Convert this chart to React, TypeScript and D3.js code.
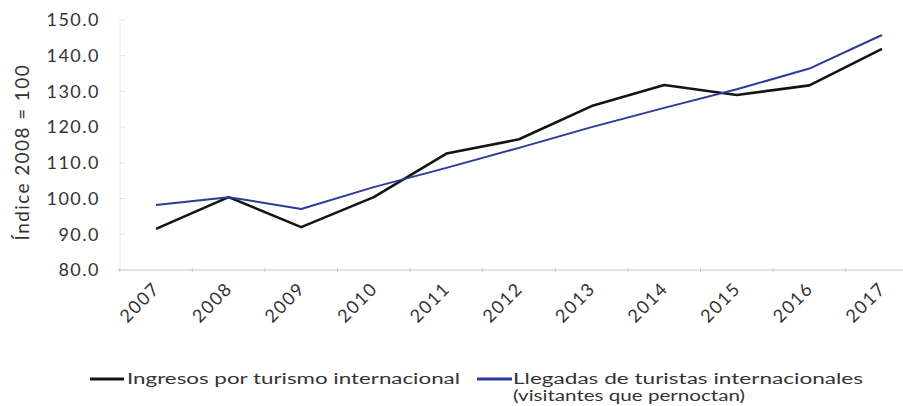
import React, { useEffect, useRef } from 'react';
import * as d3 from 'd3';

const years = ['2007', '2008', '2009', '2010', '2011', '2012', '2013', '2014', '2015', '2016', '2017'];
const ingresos = [91.5, 100.4, 92.0, 100.4, 112.6, 116.6, 125.9, 131.8, 129.0, 131.7, 141.9];
const llegadas = [98.2, 100.4, 97.1, 103.2, 108.6, 114.2, 120.0, 125.4, 130.6, 136.4, 145.8];
const yTicks = [80, 90, 100, 110, 120, 130, 140, 150];

const width = 903;
const height = 406;
const font = 'Lato, "Open Sans", sans-serif';

export default function App() {
  const svgRef = useRef<SVGSVGElement>(null);

  useEffect(() => {
    if (!svgRef.current) return;
    const svg = d3.select(svgRef.current);
    svg.selectAll('*').remove();

    // category axis: one band per year, point in the middle
    const x = d3.scaleBand<string>()
      .domain(years)
      .range([119.7, 119.7 + 72.6 * years.length]);
    const cx = (y: string) => (x(y) || 0) + x.bandwidth() / 2;

    const y = d3.scaleLinear().domain([80, 150]).range([270, 20]);

    // faint vertical axis
    svg.append('line')
      .attr('x1', 120).attr('x2', 120)
      .attr('y1', y(150)).attr('y2', y(80))
      .attr('stroke', '#ececec').attr('stroke-width', 1);

    svg.selectAll('.ytick')
      .data(yTicks)
      .enter()
      .append('line')
      .attr('x1', 120).attr('x2', 125)
      .attr('y1', d => y(d)).attr('y2', d => y(d))
      .attr('stroke', '#e2e2e2');

    // y labels
    svg.selectAll('.ylab')
      .data(yTicks)
      .enter()
      .append('text')
      .text(d => d.toFixed(1))
      .attr('x', 100)
      .attr('y', d => y(d))
      .attr('dy', '0.35em')
      .attr('text-anchor', 'end')
      .attr('font-family', font)
      .attr('font-size', 18)
      .attr('letter-spacing', 1.5)
      .attr('fill', '#333');

    // y title
    svg.append('text')
      .text('Índice 2008 = 100')
      .attr('transform', `translate(29, ${y(113)}) rotate(-90)`)
      .attr('text-anchor', 'middle')
      .attr('font-family', font)
      .attr('font-size', 19)
      .attr('letter-spacing', 1.4)
      .attr('fill', '#333');

    // x axis
    svg.append('line')
      .attr('x1', 118).attr('x2', width)
      .attr('y1', y(80)).attr('y2', y(80))
      .attr('stroke', '#c8c8c8').attr('stroke-width', 1);

    const bounds = years.map(d => x(d) || 0);
    svg.selectAll('.xtick')
      .data(bounds)
      .enter()
      .append('line')
      .attr('x1', d => d).attr('x2', d => d)
      .attr('y1', y(80) - 2).attr('y2', y(80) + 2)
      .attr('stroke', '#c8c8c8');

    svg.selectAll('.xlab')
      .data(years)
      .enter()
      .append('text')
      .text(d => d)
      .attr('transform', d => `translate(${cx(d) - 4}, ${y(80) + 11}) rotate(-45)`)
      .attr('text-anchor', 'end')
      .attr('dy', '0.7em')
      .attr('font-family', font)
      .attr('font-size', 18)
      .attr('letter-spacing', 1.5)
      .attr('fill', '#333');

    // lines
    const line = d3.line<number>()
      .x((_, i) => cx(years[i]))
      .y(d => y(d));

    svg.append('path')
      .datum(ingresos)
      .attr('d', line)
      .attr('fill', 'none')
      .attr('stroke', '#141414')
      .attr('stroke-width', 2.6)
      .attr('stroke-linejoin', 'round');

    svg.append('path')
      .datum(llegadas)
      .attr('d', line)
      .attr('fill', 'none')
      .attr('stroke', '#2a3b9c')
      .attr('stroke-width', 2)
      .attr('stroke-linejoin', 'round');

    // legend
    const legend = svg.append('g').attr('font-family', font).attr('font-size', 15.5).attr('fill', '#333');
    legend.append('line')
      .attr('x1', 90).attr('x2', 124).attr('y1', 379).attr('y2', 379)
      .attr('stroke', '#141414').attr('stroke-width', 3.2);
    legend.append('text')
      .text('Ingresos por turismo internacional')
      .attr('x', 127).attr('y', 384)
      .attr('textLength', 333).attr('lengthAdjust', 'spacingAndGlyphs');
    legend.append('line')
      .attr('x1', 477).attr('x2', 512).attr('y1', 379).attr('y2', 379)
      .attr('stroke', '#2a3b9c').attr('stroke-width', 3);
    legend.append('text')
      .text('Llegadas de turistas internacionales')
      .attr('x', 513).attr('y', 384)
      .attr('textLength', 350).attr('lengthAdjust', 'spacingAndGlyphs');
    legend.append('text')
      .text('(visitantes que pernoctan)')
      .attr('x', 513).attr('y', 401)
      .attr('textLength', 232).attr('lengthAdjust', 'spacingAndGlyphs');
  }, []);

  return (
    <>
      <style>{'body{margin:0}'}</style>
      <svg ref={svgRef} width={width} height={height} style={{ display: 'block', background: '#fff' }} />
    </>
  );
}
